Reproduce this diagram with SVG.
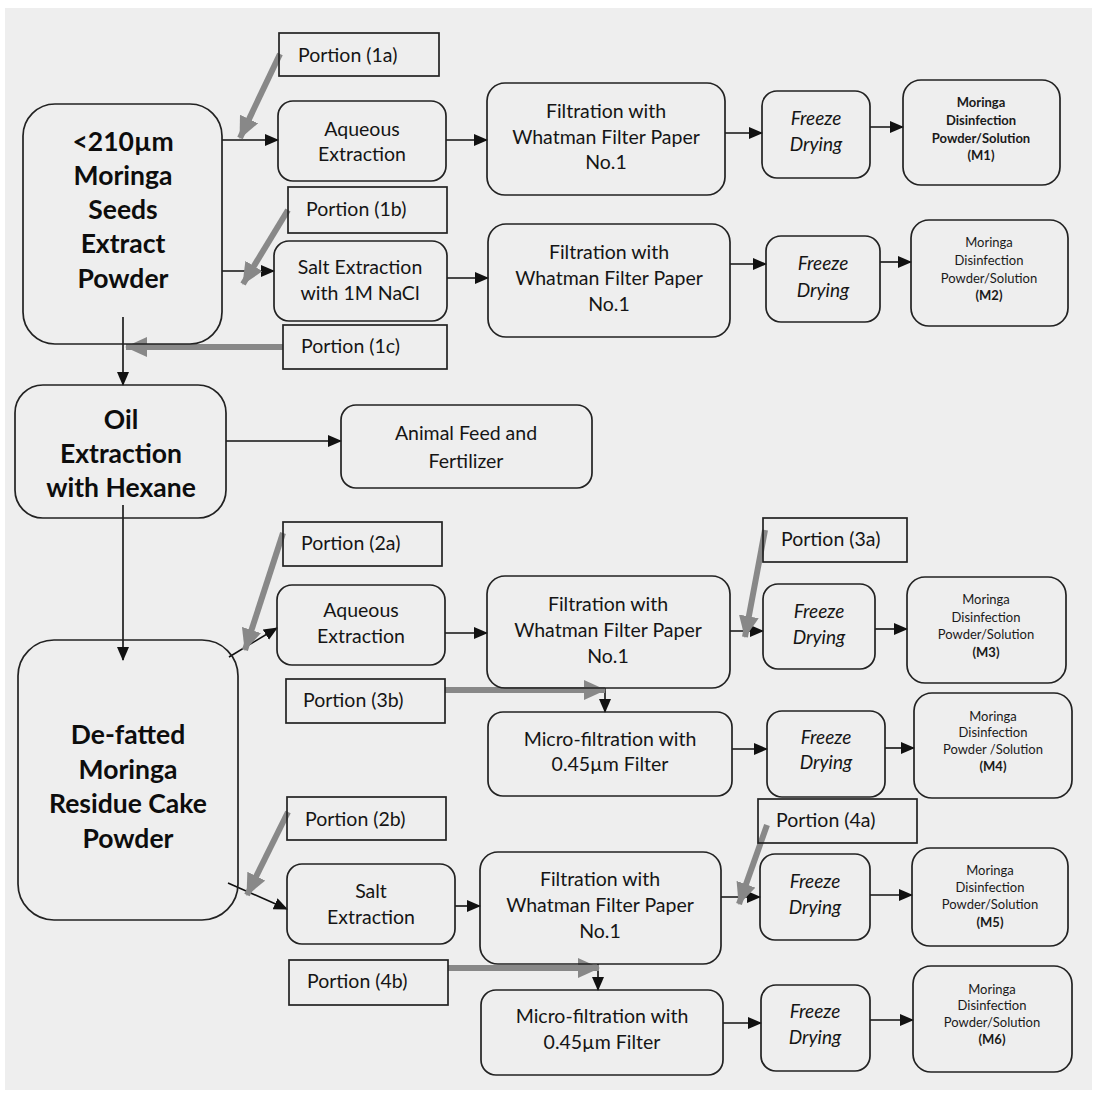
<svg xmlns="http://www.w3.org/2000/svg" width="1096" height="1094" viewBox="0 0 1096 1094">
<defs>
<marker id="ah" markerUnits="userSpaceOnUse" markerWidth="14" markerHeight="12" refX="13" refY="6" orient="auto"><path d="M0,0 L14,6 L0,12 Z" fill="#111"/></marker>
<marker id="gh" markerUnits="userSpaceOnUse" markerWidth="22" markerHeight="20" refX="21" refY="10" orient="auto"><path d="M0,0 L22,10 L0,20 Z" fill="#888888"/></marker>
<style>
.n{fill:none;stroke:#222;stroke-width:1.7}
.p{fill:none;stroke:#222;stroke-width:1.7}
.t{font-family:Lato,"Open Sans",sans-serif;font-size:19.5px;fill:#151515;text-anchor:middle}
.b{font-family:Lato,"Open Sans",sans-serif;font-size:26.5px;font-weight:bold;fill:#0d0d0d;text-anchor:middle}
.i{font-family:Lato,"Open Sans",sans-serif;font-size:19px;font-style:italic;fill:#151515;text-anchor:middle}
.m{font-family:Lato,"Open Sans",sans-serif;font-size:13px;fill:#1a1a1a;text-anchor:middle}
.mb{font-family:Lato,"Open Sans",sans-serif;font-size:13px;font-weight:bold;fill:#1a1a1a;text-anchor:middle}
.pt{font-family:Lato,"Open Sans",sans-serif;font-size:19.5px;fill:#151515}
.c{fill:none;stroke:#111;stroke-width:1.6}
.g{fill:none;stroke:#888888;stroke-width:6}
</style>
</defs>
<rect x="0" y="0" width="1096" height="1094" fill="#ffffff"/>
<rect x="5" y="8" width="1087" height="1082" fill="#eeeeee"/>

<g id="connectors">
<line class="c" x1="222" y1="140" x2="278" y2="140" marker-end="url(#ah)"/>
<line class="c" x1="446" y1="140" x2="487" y2="140" marker-end="url(#ah)"/>
<line class="c" x1="725" y1="133" x2="762" y2="133" marker-end="url(#ah)"/>
<line class="c" x1="870" y1="127" x2="903" y2="127" marker-end="url(#ah)"/>
<line class="c" x1="222" y1="271" x2="274" y2="271" marker-end="url(#ah)"/>
<line class="c" x1="447" y1="278" x2="488" y2="278" marker-end="url(#ah)"/>
<line class="c" x1="730" y1="264" x2="766" y2="264" marker-end="url(#ah)"/>
<line class="c" x1="880" y1="262" x2="911" y2="262" marker-end="url(#ah)"/>
<line class="c" x1="123" y1="317" x2="123" y2="385" marker-end="url(#ah)"/>
<line class="c" x1="226" y1="441" x2="341" y2="441" marker-end="url(#ah)"/>
<line class="c" x1="123" y1="505" x2="123" y2="660" marker-end="url(#ah)"/>
<line class="c" x1="229" y1="657" x2="277" y2="628" marker-end="url(#ah)"/>
<line class="c" x1="445" y1="633" x2="487" y2="633" marker-end="url(#ah)"/>
<line class="c" x1="730" y1="631" x2="763" y2="631" marker-end="url(#ah)"/>
<line class="c" x1="875" y1="629" x2="907" y2="629" marker-end="url(#ah)"/>
<line class="c" x1="605" y1="688" x2="605" y2="712" marker-end="url(#ah)"/>
<line class="c" x1="732" y1="749" x2="767" y2="749" marker-end="url(#ah)"/>
<line class="c" x1="885" y1="748" x2="914" y2="748" marker-end="url(#ah)"/>
<line class="c" x1="228" y1="883" x2="287" y2="909" marker-end="url(#ah)"/>
<line class="c" x1="455" y1="906" x2="480" y2="906" marker-end="url(#ah)"/>
<line class="c" x1="721" y1="897" x2="760" y2="897" marker-end="url(#ah)"/>
<line class="c" x1="870" y1="895" x2="912" y2="895" marker-end="url(#ah)"/>
<line class="c" x1="598" y1="964" x2="598" y2="990" marker-end="url(#ah)"/>
<line class="c" x1="723" y1="1023" x2="761" y2="1023" marker-end="url(#ah)"/>
<line class="c" x1="870" y1="1020" x2="913" y2="1020" marker-end="url(#ah)"/>
<line class="g" x1="280" y1="54" x2="240" y2="138" marker-end="url(#gh)"/>
<line class="g" x1="288" y1="210" x2="243" y2="284" marker-end="url(#gh)"/>
<line class="g" x1="283" y1="347" x2="126" y2="347" marker-end="url(#gh)"/>
<line class="g" x1="283" y1="533" x2="245" y2="650" marker-end="url(#gh)"/>
<line class="g" x1="765" y1="530" x2="745" y2="637" marker-end="url(#gh)"/>
<line class="g" x1="445" y1="690" x2="605" y2="690" marker-end="url(#gh)"/>
<line class="g" x1="288" y1="812" x2="247" y2="895" marker-end="url(#gh)"/>
<line class="g" x1="767" y1="825" x2="739" y2="904" marker-end="url(#gh)"/>
<line class="g" x1="448" y1="968" x2="599" y2="968" marker-end="url(#gh)"/>
</g>

<g id="seeds-powder"><rect class="n" x="23" y="104" width="199" height="240" rx="32"/>
<text class="b" x="123" y="151">&lt;210µm</text><text class="b" x="123" y="185">Moringa</text><text class="b" x="123" y="219">Seeds</text><text class="b" x="123" y="253">Extract</text><text class="b" x="123" y="288">Powder</text></g>

<g id="portion-1a"><rect class="p" x="279" y="33" width="160" height="43"/><text class="pt" x="298" y="62">Portion (1a)</text></g>
<g id="aqueous-1"><rect class="n" x="278" y="101" width="168" height="80" rx="15"/><text class="t" x="362" y="136">Aqueous</text><text class="t" x="362" y="161">Extraction</text></g>
<g id="filtration-1"><rect class="n" x="487" y="83" width="238" height="112" rx="18"/><text class="t" x="606" y="118">Filtration with</text><text class="t" x="606" y="144">Whatman Filter Paper</text><text class="t" x="606" y="169">No.1</text></g>
<g id="freeze-1"><rect class="n" x="762" y="91" width="108" height="87" rx="15"/><text class="i" x="816" y="125">Freeze</text><text class="i" x="816" y="151">Drying</text></g>
<g id="m1"><rect class="n" x="903" y="80" width="157" height="105" rx="18"/><text class="mb" x="981" y="107">Moringa</text><text class="mb" x="981" y="125">Disinfection</text><text class="mb" x="981" y="143">Powder/Solution</text><text class="mb" x="981" y="160">(M1)</text></g>

<g id="portion-1b"><rect class="p" x="288" y="187" width="159" height="46"/><text class="pt" x="306" y="216">Portion (1b)</text></g>
<g id="salt-1"><rect class="n" x="274" y="241" width="173" height="80" rx="15"/><text class="t" x="360" y="274">Salt Extraction</text><text class="t" x="360" y="300">with 1M NaCl</text></g>
<g id="filtration-2"><rect class="n" x="488" y="224" width="242" height="113" rx="18"/><text class="t" x="609" y="259">Filtration with</text><text class="t" x="609" y="285">Whatman Filter Paper</text><text class="t" x="609" y="311">No.1</text></g>
<g id="freeze-2"><rect class="n" x="766" y="236" width="114" height="86" rx="15"/><text class="i" x="823" y="270">Freeze</text><text class="i" x="823" y="297">Drying</text></g>
<g id="m2"><rect class="n" x="911" y="220" width="157" height="106" rx="18"/><text class="m" x="989" y="247">Moringa</text><text class="m" x="989" y="265">Disinfection</text><text class="m" x="989" y="283">Powder/Solution</text><text class="mb" x="989" y="300">(M2)</text></g>

<g id="portion-1c"><rect class="p" x="283" y="325" width="164" height="44"/><text class="pt" x="301" y="353">Portion (1c)</text></g>

<g id="oil-extraction"><rect class="n" x="15" y="385" width="211" height="133" rx="28"/><text class="b" x="121" y="429">Oil</text><text class="b" x="121" y="463">Extraction</text><text class="b" x="121" y="497">with Hexane</text></g>
<g id="animal-feed"><rect class="n" x="341" y="405" width="251" height="83" rx="15"/><text class="t" x="466" y="440">Animal Feed and</text><text class="t" x="466" y="468">Fertilizer</text></g>

<g id="defatted-powder"><rect class="n" x="18" y="640" width="220" height="280" rx="36"/><text class="b" x="128" y="744">De-fatted</text><text class="b" x="128" y="779">Moringa</text><text class="b" x="128" y="813">Residue Cake</text><text class="b" x="128" y="848">Powder</text></g>

<g id="portion-2a"><rect class="p" x="283" y="522" width="159" height="44"/><text class="pt" x="301" y="550">Portion (2a)</text></g>
<g id="aqueous-2"><rect class="n" x="277" y="585" width="168" height="80" rx="15"/><text class="t" x="361" y="617">Aqueous</text><text class="t" x="361" y="643">Extraction</text></g>
<g id="filtration-3"><rect class="n" x="487" y="576" width="243" height="112" rx="18"/><text class="t" x="608" y="611">Filtration with</text><text class="t" x="608" y="637">Whatman Filter Paper</text><text class="t" x="608" y="663">No.1</text></g>
<g id="portion-3a"><rect class="p" x="763" y="518" width="144" height="44"/><text class="pt" x="781" y="546">Portion (3a)</text></g>
<g id="freeze-3"><rect class="n" x="763" y="584" width="112" height="85" rx="15"/><text class="i" x="819" y="618">Freeze</text><text class="i" x="819" y="644">Drying</text></g>
<g id="m3"><rect class="n" x="907" y="577" width="159" height="106" rx="18"/><text class="m" x="986" y="604">Moringa</text><text class="m" x="986" y="622">Disinfection</text><text class="m" x="986" y="639">Powder/Solution</text><text class="mb" x="986" y="657">(M3)</text></g>

<g id="portion-3b"><rect class="p" x="286" y="679" width="159" height="44"/><text class="pt" x="303" y="707">Portion (3b)</text></g>
<g id="microfiltration-1"><rect class="n" x="488" y="712" width="244" height="84" rx="15"/><text class="t" x="610" y="746">Micro-filtration with</text><text class="t" x="610" y="771">0.45µm Filter</text></g>
<g id="freeze-4"><rect class="n" x="767" y="711" width="118" height="86" rx="15"/><text class="i" x="826" y="744">Freeze</text><text class="i" x="826" y="769">Drying</text></g>
<g id="m4"><rect class="n" x="914" y="693" width="158" height="105" rx="18"/><text class="m" x="993" y="721">Moringa</text><text class="m" x="993" y="737">Disinfection</text><text class="m" x="993" y="754">Powder /Solution</text><text class="mb" x="993" y="771">(M4)</text></g>

<g id="portion-2b"><rect class="p" x="287" y="797" width="159" height="43"/><text class="pt" x="305" y="826">Portion (2b)</text></g>
<g id="salt-2"><rect class="n" x="287" y="864" width="168" height="80" rx="15"/><text class="t" x="371" y="898">Salt</text><text class="t" x="371" y="924">Extraction</text></g>
<g id="filtration-4"><rect class="n" x="480" y="852" width="241" height="112" rx="18"/><text class="t" x="600" y="886">Filtration with</text><text class="t" x="600" y="912">Whatman Filter Paper</text><text class="t" x="600" y="938">No.1</text></g>
<g id="portion-4a"><rect class="p" x="758" y="799" width="159" height="44"/><text class="pt" x="776" y="827">Portion (4a)</text></g>
<g id="freeze-5"><rect class="n" x="760" y="854" width="110" height="86" rx="15"/><text class="i" x="815" y="888">Freeze</text><text class="i" x="815" y="914">Drying</text></g>
<g id="m5"><rect class="n" x="912" y="848" width="156" height="98" rx="18"/><text class="m" x="990" y="875">Moringa</text><text class="m" x="990" y="892">Disinfection</text><text class="m" x="990" y="909">Powder/Solution</text><text class="mb" x="990" y="927">(M5)</text></g>

<g id="portion-4b"><rect class="p" x="289" y="960" width="159" height="45"/><text class="pt" x="307" y="988">Portion (4b)</text></g>
<g id="microfiltration-2"><rect class="n" x="481" y="990" width="242" height="85" rx="15"/><text class="t" x="602" y="1023">Micro-filtration with</text><text class="t" x="602" y="1049">0.45µm Filter</text></g>
<g id="freeze-6"><rect class="n" x="761" y="985" width="109" height="86" rx="15"/><text class="i" x="815" y="1018">Freeze</text><text class="i" x="815" y="1044">Drying</text></g>
<g id="m6"><rect class="n" x="913" y="966" width="159" height="106" rx="18"/><text class="m" x="992" y="994">Moringa</text><text class="m" x="992" y="1010">Disinfection</text><text class="m" x="992" y="1027">Powder/Solution</text><text class="mb" x="992" y="1044">(M6)</text></g>
</svg>
